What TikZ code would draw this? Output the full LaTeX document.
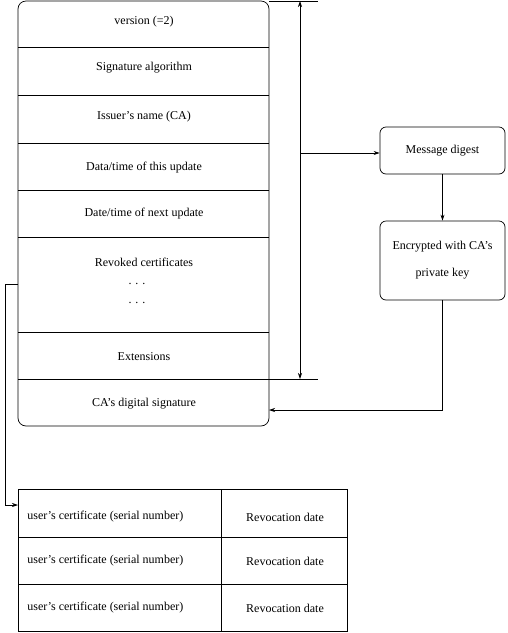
\documentclass[tikz,border=0pt]{standalone}
\usepackage{fontspec}
\setmainfont{Liberation Serif}
\usetikzlibrary{arrows.meta}
\begin{document}
\begin{tikzpicture}[x=1pt,y=-1pt,
  line width=0.7pt,
  lbl/.style={font=\fontsize{12}{14}\selectfont, inner sep=0pt, anchor=center},
  arr/.style={-{Stealth[length=6pt,width=4pt]}},
  every node/.style={inner sep=0pt}]
\useasboundingbox (0,0) rectangle (507,633);
% main box
\draw[rounded corners=8pt] (18,1) rectangle (269,426);
\foreach \yy in {47,95,143,190,237,332,379} \draw (18,\yy) -- (269,\yy);
\node[lbl] (ver) at (144,22) {version (=2)};
\node[lbl] (sig) at (144,68) {Signature algorithm};
\node[lbl] (iss) at (144,117) {Issuer's name (CA)};
\node[lbl] (thisu) at (144,168) {Data/time of this update};
\node[lbl] (nextu) at (144,214) {Date/time of next update};
\node[lbl] (rev) at (144,262) {Revoked certificates};
\node[lbl] (d1) at (137,284) {. . .};
\node[lbl] (d2) at (137,303) {. . .};
\node[lbl] (ext) at (144,357) {Extensions};
\node[lbl] (casig) at (144,404) {CA's digital signature};
% span marker
\coordinate (tl) at (269,1);
\coordinate (tr) at (318,1);
\coordinate (bl) at (269,379);
\coordinate (br) at (318,379);
\draw (tl) -- (tr);
\draw (bl) -- (br);
\coordinate (vt) at (300,1);
\coordinate (vb) at (300,379);
\coordinate (vm) at (300,153);
\draw[{Stealth[length=6pt,width=4pt]}-{Stealth[length=6pt,width=4pt]}] (vt) -- (vb);
% right boxes
\node[draw, rounded corners=6pt, minimum width=125pt, minimum height=47pt, lbl] (md) at (442.5,150.5) {Message digest};
\node[draw, rounded corners=6pt, minimum width=125pt, minimum height=79pt, lbl, align=center] (enc) at (442.5,260.5) {Encrypted with CA's\\[13pt]private key};
\draw[arr] (vm) -- (md.west |- vm);
\draw[arr] (md) -- (enc);
\coordinate (sigin) at (269,410);
\draw[arr] (enc.south) |- (sigin);
% left connector
\coordinate (revout) at (18,284);
\coordinate (tin) at (18,505);
\draw[arr] (revout) -- (5,284) -- (5,505) -- (tin);
% table
\draw (18,489) rectangle (347,631);
\draw (221,489) -- (221,631);
\draw (18,537) -- (347,537);
\draw (18,584) -- (347,584);
\foreach \yy/\nm in {517/a,561/b,608/c}{
  \node[lbl, anchor=west] (u\nm) at (27,\yy) {user's certificate (serial number)};
  \node[lbl] (r\nm) at (285,\yy) {Revocation date};
}
\end{tikzpicture}
\end{document}
